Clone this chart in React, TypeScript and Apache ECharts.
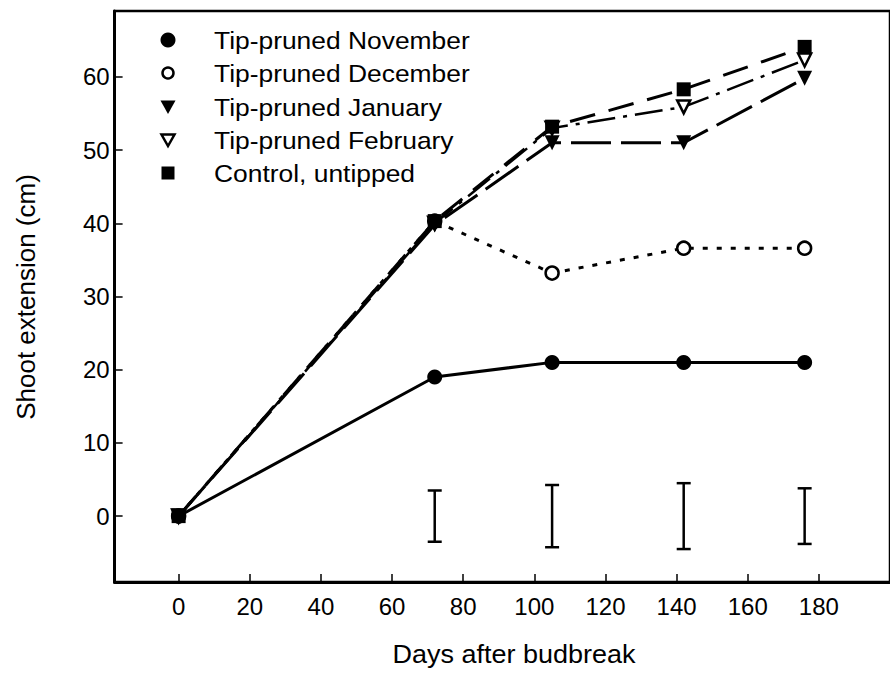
import React, { useEffect, useRef } from "react";
import * as echarts from "echarts";

// Sampling days after budbreak
const days = [0, 72, 105, 142, 176];

// Shoot extension (cm) per treatment
const novemberValues = [0, 19, 21, 21, 21];
const decemberValues = [0, 40.3, 33.2, 36.6, 36.6];
const januaryValues = [0, 39.8, 51, 51, 59.8];
const februaryValues = [0, 40, 53, 55.9, 62.3];
const controlValues = [0, 40.3, 53.2, 58.3, 64.1];

// LSD-style bars drawn around zero on each sampling date
const errorBarDays = [72, 105, 142, 176];
const errorBarHalf = [3.5, 4.25, 4.5, 3.8];

const xTicks = [0, 20, 40, 60, 80, 100, 120, 140, 160, 180];
const yTicks = [0, 10, 20, 30, 40, 50, 60];

const legendNames = [
  "Tip-pruned November",
  "Tip-pruned December",
  "Tip-pruned January",
  "Tip-pruned February",
  "Control, untipped",
];

const FONT = "'Liberation Sans', Arial, Helvetica, sans-serif";
const INK = "#000";

const pairs = (vals: number[]) => days.map((d, i) => [d, vals[i]]);

export default function App() {
  const ref = useRef<HTMLDivElement>(null);

  useEffect(() => {
    if (!ref.current) return;
    const chart = echarts.init(ref.current, null, { renderer: "svg" });

    const lineBase = {
      type: "line" as const,
      showSymbol: true,
      symbolSize: 15,
      clip: false,
    };

    // legend rows drawn by hand: symbol column + label column
    const legendRowY = [40, 73, 107, 140, 173];
    const symX = 168;
    const textX = 214;
    const legendSymbols: any[] = [
      { type: "circle", shape: { cx: symX, cy: legendRowY[0], r: 7.5 }, style: { fill: INK } },
      {
        type: "circle",
        shape: { cx: symX, cy: legendRowY[1], r: 5.5 },
        style: { fill: "#fff", stroke: INK, lineWidth: 2.5 },
      },
      {
        type: "polygon",
        shape: { points: [[symX - 7.5, legendRowY[2] - 6.5], [symX + 7.5, legendRowY[2] - 6.5], [symX, legendRowY[2] + 7]] },
        style: { fill: INK },
      },
      {
        type: "polygon",
        shape: { points: [[symX - 6.5, legendRowY[3] - 5.5], [symX + 6.5, legendRowY[3] - 5.5], [symX, legendRowY[3] + 6]] },
        style: { fill: "#fff", stroke: INK, lineWidth: 2.5 },
      },
      {
        type: "rect",
        shape: { x: symX - 6.5, y: legendRowY[4] - 6.5, width: 13, height: 13 },
        style: { fill: INK },
      },
    ];
    const legendTexts = legendNames.map((name, i) => ({
      type: "text",
      x: textX,
      y: legendRowY[i],
      scaleX: 1.1,
      style: {
        text: name,
        fill: INK,
        font: `24px ${FONT}`,
        textAlign: "left",
        textVerticalAlign: "middle",
      },
    }));

    chart.setOption({
      animation: false,
      backgroundColor: "#fff",
      grid: {
        left: 114.6,
        top: 11,
        width: 782.9,
        height: 571,
        show: true,
        borderColor: INK,
        borderWidth: 2.5,
        backgroundColor: "transparent",
      },
      xAxis: {
        type: "value",
        min: -18,
        max: 200,
        splitLine: { show: false },
        axisLine: { show: true, onZero: false, lineStyle: { color: INK, width: 3 } },
        axisTick: {
          show: true,
          inside: true,
          length: 8,
          customValues: xTicks,
          lineStyle: { color: INK, width: 1.5 },
        },
        axisLabel: {
          customValues: xTicks,
          color: INK,
          fontFamily: FONT,
          fontSize: 24,
          margin: 12,
        },
      },
      yAxis: {
        type: "value",
        min: -9,
        max: 69,
        splitLine: { show: false },
        axisLine: { show: true, onZero: false, lineStyle: { color: INK, width: 3 } },
        axisTick: {
          show: true,
          inside: true,
          length: 8,
          customValues: yTicks,
          lineStyle: { color: INK, width: 1.5 },
        },
        axisLabel: {
          customValues: yTicks,
          color: INK,
          fontFamily: FONT,
          fontSize: 24,
          margin: 5,
        },
      },
      graphic: [
        ...legendSymbols,
        ...legendTexts,
        {
          type: "text",
          x: 514,
          y: 654,
          scaleX: 1.08,
          style: {
            text: "Days after budbreak",
            fill: INK,
            font: `25px ${FONT}`,
            textAlign: "center",
            textVerticalAlign: "middle",
          },
        },
        {
          type: "text",
          x: 26,
          y: 297,
          rotation: Math.PI / 2,
          style: {
            text: "Shoot extension (cm)",
            fill: INK,
            font: `26px ${FONT}`,
            textAlign: "center",
            textVerticalAlign: "middle",
          },
        },
      ],
      series: [
        {
          ...lineBase,
          name: legendNames[0],
          data: pairs(novemberValues),
          symbol: "circle",
          lineStyle: { color: INK, width: 3, type: "solid" },
          itemStyle: { color: INK },
          z: 2,
        },
        {
          ...lineBase,
          name: legendNames[1],
          data: pairs(decemberValues),
          symbol: "circle",
          symbolSize: 13,
          lineStyle: { color: INK, width: 3, type: [5, 9] },
          itemStyle: { color: "#fff", borderColor: INK, borderWidth: 2.5 },
          z: 3,
        },
        {
          ...lineBase,
          name: legendNames[2],
          data: pairs(januaryValues),
          symbol: "triangle",
          symbolRotate: 180,
          lineStyle: { color: INK, width: 3, type: [40, 10] },
          itemStyle: { color: INK },
          z: 4,
        },
        {
          ...lineBase,
          name: legendNames[3],
          data: pairs(februaryValues),
          symbol: "triangle",
          symbolRotate: 180,
          symbolSize: 13,
          lineStyle: { color: INK, width: 2.5, type: [28, 8, 4, 8] },
          itemStyle: { color: "#fff", borderColor: INK, borderWidth: 2.5 },
          z: 5,
        },
        {
          ...lineBase,
          name: legendNames[4],
          data: pairs(controlValues),
          symbol: "rect",
          symbolSize: 14,
          lineStyle: { color: INK, width: 3, type: [26, 14] },
          itemStyle: { color: INK },
          z: 6,
        },
        {
          type: "custom",
          name: "error",
          data: errorBarDays.map((d, i) => [d, -errorBarHalf[i], errorBarHalf[i]]),
          encode: { x: 0, y: [1, 2] },
          z: 7,
          renderItem: (_params: any, api: any) => {
            const x = api.value(0);
            const top = api.coord([x, api.value(2)]);
            const bot = api.coord([x, api.value(1)]);
            const hw = 7;
            const st = { stroke: INK, lineWidth: 2.5 };
            return {
              type: "group",
              children: [
                { type: "line", shape: { x1: top[0], y1: top[1], x2: bot[0], y2: bot[1] }, style: st },
                { type: "line", shape: { x1: top[0] - hw, y1: top[1], x2: top[0] + hw, y2: top[1] }, style: st },
                { type: "line", shape: { x1: bot[0] - hw, y1: bot[1], x2: bot[0] + hw, y2: bot[1] }, style: st },
              ],
            };
          },
        },
      ],
    });

    return () => chart.dispose();
  }, []);

  return (
    <div
      ref={ref}
      style={{ position: "fixed", left: 0, top: 0, width: 890, height: 673, background: "#fff" }}
    />
  );
}
